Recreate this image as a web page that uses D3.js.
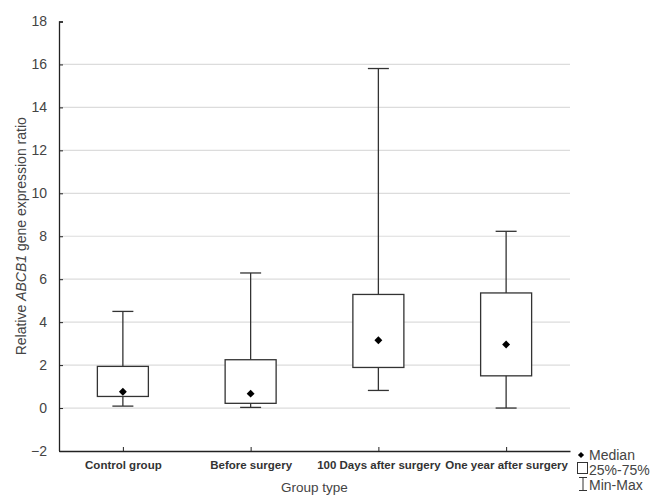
<!DOCTYPE html>
<html>
<head>
<meta charset="utf-8">
<script src="https://cdn.jsdelivr.net/npm/d3@7"></script>
<style>
  body { margin: 0; background: #fff; }
  svg { font-family: Arial, "Liberation Sans", sans-serif; }
</style>
</head>
<body>
<svg id="chart" width="651" height="496"></svg>
<script>
// data
var groups = ["Control group", "Before surgery", "100 Days after surgery", "One year after surgery"];
var minVals = [0.09, 0.03, 0.82, 0.0];
var q1Vals = [0.54, 0.22, 1.89, 1.50];
var medianVals = [0.76, 0.67, 3.16, 2.96];
var q3Vals = [1.94, 2.25, 5.29, 5.36];
var maxVals = [4.50, 6.29, 15.81, 8.23];
var yTicks = [-2, 0, 2, 4, 6, 8, 10, 12, 14, 16, 18];
var legendLabels = ["Median", "25%-75%", "Min-Max"];

var svg = d3.select("#chart");
var margin = { top: 21.5, right: 81, bottom: 45, left: 59 };
var width = 651 - margin.left - margin.right;
var height = 496 - margin.top - margin.bottom;
var g = svg.append("g").attr("transform", "translate(" + margin.left + "," + margin.top + ")");

var x = d3.scalePoint().domain(groups).range([0, width]).padding(0.5);
var y = d3.scaleLinear().domain([-2, 18]).range([height, 0]);

var data = groups.map(function (d, i) {
  return { name: d, min: minVals[i], q1: q1Vals[i], med: medianVals[i], q3: q3Vals[i], max: maxVals[i] };
});

// gridlines
g.append("g").selectAll("line")
  .data(yTicks.filter(function (t) { return t > -2 && t < 18; }))
  .join("line")
  .attr("x1", 0).attr("x2", width)
  .attr("y1", function (d) { return y(d); }).attr("y2", function (d) { return y(d); })
  .attr("stroke", "#dcdcdc").attr("stroke-width", 1.2);

// y axis, ticks point inward
var yAxis = g.append("g").call(d3.axisLeft(y).tickValues(yTicks).tickSize(-4).tickPadding(12));
yAxis.select(".domain").attr("stroke", "#222").attr("stroke-width", 1.3).attr("d", "M4,0.5H0.5V" + height);
yAxis.selectAll(".tick line").attr("stroke", "#222");
yAxis.selectAll("text").attr("fill", "#444").style("font-size", "14px");

// x axis, ticks point up
var xAxis = g.append("g").attr("transform", "translate(0," + height + ")")
  .call(d3.axisBottom(x).tickSize(-4).tickSizeOuter(0).tickPadding(10));
xAxis.select(".domain").attr("stroke", "#222").attr("stroke-width", 1.3);
xAxis.selectAll(".tick line").attr("stroke", "#222");
xAxis.selectAll("text").attr("fill", "#333").style("font-size", "11.5px").style("font-weight", "bold");

var boxW = 51, capW = 21;
var box = g.append("g").selectAll("g").data(data).join("g")
  .attr("transform", function (d) { return "translate(" + x(d.name) + ",0)"; });

box.append("line")
  .attr("x1", 0).attr("x2", 0)
  .attr("y1", function (d) { return y(d.max); }).attr("y2", function (d) { return y(d.min); })
  .attr("stroke", "#333").attr("stroke-width", 1.3);
box.append("line")
  .attr("x1", -capW / 2).attr("x2", capW / 2)
  .attr("y1", function (d) { return y(d.max); }).attr("y2", function (d) { return y(d.max); })
  .attr("stroke", "#333").attr("stroke-width", 1.3);
box.append("line")
  .attr("x1", -capW / 2).attr("x2", capW / 2)
  .attr("y1", function (d) { return y(d.min); }).attr("y2", function (d) { return y(d.min); })
  .attr("stroke", "#333").attr("stroke-width", 1.3);
box.append("rect")
  .attr("x", -boxW / 2).attr("width", boxW)
  .attr("y", function (d) { return y(d.q3); })
  .attr("height", function (d) { return y(d.q1) - y(d.q3); })
  .attr("fill", "#fff").attr("stroke", "#333").attr("stroke-width", 1.3);
box.append("path")
  .attr("d", d3.symbol().type(d3.symbolDiamond2).size(40))
  .attr("transform", function (d) { return "translate(0," + y(d.med) + ")"; })
  .attr("fill", "#000");

// axis titles
svg.append("text")
  .attr("transform", "translate(26," + (margin.top + y(8)) + ") rotate(-90)")
  .attr("text-anchor", "middle").attr("fill", "#444").style("font-size", "14px")
  .call(function (t) {
    t.append("tspan").text("Relative ");
    t.append("tspan").style("font-style", "italic").text("ABCB1");
    t.append("tspan").text(" gene expression ratio");
  });

svg.append("text")
  .attr("x", margin.left + width / 2).attr("y", 492)
  .attr("text-anchor", "middle").attr("fill", "#444").style("font-size", "13.5px")
  .text("Group type");

// legend
var lg = svg.append("g").attr("transform", "translate(577,0)");
lg.append("path")
  .attr("d", d3.symbol().type(d3.symbolDiamond2).size(24))
  .attr("transform", "translate(4,455)").attr("fill", "#000");
lg.append("rect").attr("x", 0.5).attr("y", 462.5).attr("width", 10).attr("height", 11)
  .attr("fill", "#fff").attr("stroke", "#333");
lg.append("path").attr("d", "M2,477.5H10M6,477.5V490.5M2,490.5H10")
  .attr("stroke", "#333").attr("fill", "none");
lg.selectAll("text.lab").data(legendLabels).join("text")
  .attr("class", "lab")
  .attr("x", 12).attr("y", function (d, i) { return 460 + i * 15; })
  .attr("fill", "#444").style("font-size", "14px")
  .text(function (d) { return d; });
</script>
</body>
</html>
